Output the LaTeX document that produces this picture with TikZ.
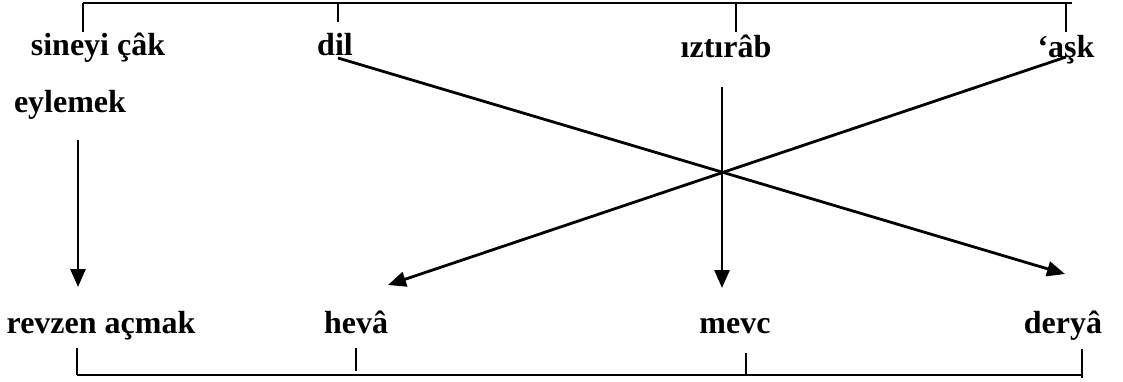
\documentclass[tikz,border=0pt]{standalone}
\usepackage{fontspec}
\setmainfont{Liberation Serif}
\usetikzlibrary{arrows.meta}
\tikzset{
  word/.style={font=\fontsize{32}{38}\selectfont\bfseries, inner sep=0pt, anchor=base},
  brk/.style={line width=2.3pt},
  arr/.style={line width=2.8pt, -{Triangle[length=18pt, width=15pt]}},
}
\begin{document}
\begin{tikzpicture}[x=1pt, y=-1pt]
\useasboundingbox (0,0) rectangle (1123,381);
% upper words
\node[word] (sin) at (98,55) {sineyi çâk};
\node[word] (dil) at (335,55) {dil};
\node[word] (izt) at (726,57) {ıztırâb};
\node[word] (ask) at (1066,57) {‘aşk};
\node[word] (eyl) at (70,112) {eylemek};
% lower words
\node[word] (rev) at (101,333) {revzen açmak};
\node[word] (hev) at (356,333) {hevâ};
\node[word] (mev) at (735,333) {mevc};
\node[word] (der) at (1063,333) {deryâ};
% bracket ends
\coordinate (tL) at (83,3);
\coordinate (tR) at (1072,3);
\coordinate (bL) at (77,375);
\coordinate (bR) at (1082,375);
% arrow ends
\coordinate (eylA) at (78,140);
\coordinate (revA) at (78,287);
\coordinate (iztA) at (722,87);
\coordinate (mevA) at (722,288);
\coordinate (dilA) at (338,58);
\coordinate (derA) at (1065,274);
\coordinate (askA) at (1066,57);
\coordinate (hevA) at (388,285);
% brackets
\draw[brk] (tL) -- (tR);
\draw[brk] (83,3) -- (83,32);
\draw[brk] (338,3) -- (338,22);
\draw[brk] (736,3) -- (736,32);
\draw[brk] (1066,3) -- (1066,32);
\draw[brk] (bL) -- (bR);
\draw[brk] (77,348) -- (77,375);
\draw[brk] (356,348) -- (356,371);
\draw[brk] (746,353) -- (746,375);
\draw[brk] (1082,349) -- (1082,378);
% arrows
\draw[arr] (eylA) -- (revA);
\draw[arr] (iztA) -- (mevA);
\draw[arr] (dilA) -- (derA);
\draw[arr] (askA) -- (hevA);
\end{tikzpicture}
\end{document}
